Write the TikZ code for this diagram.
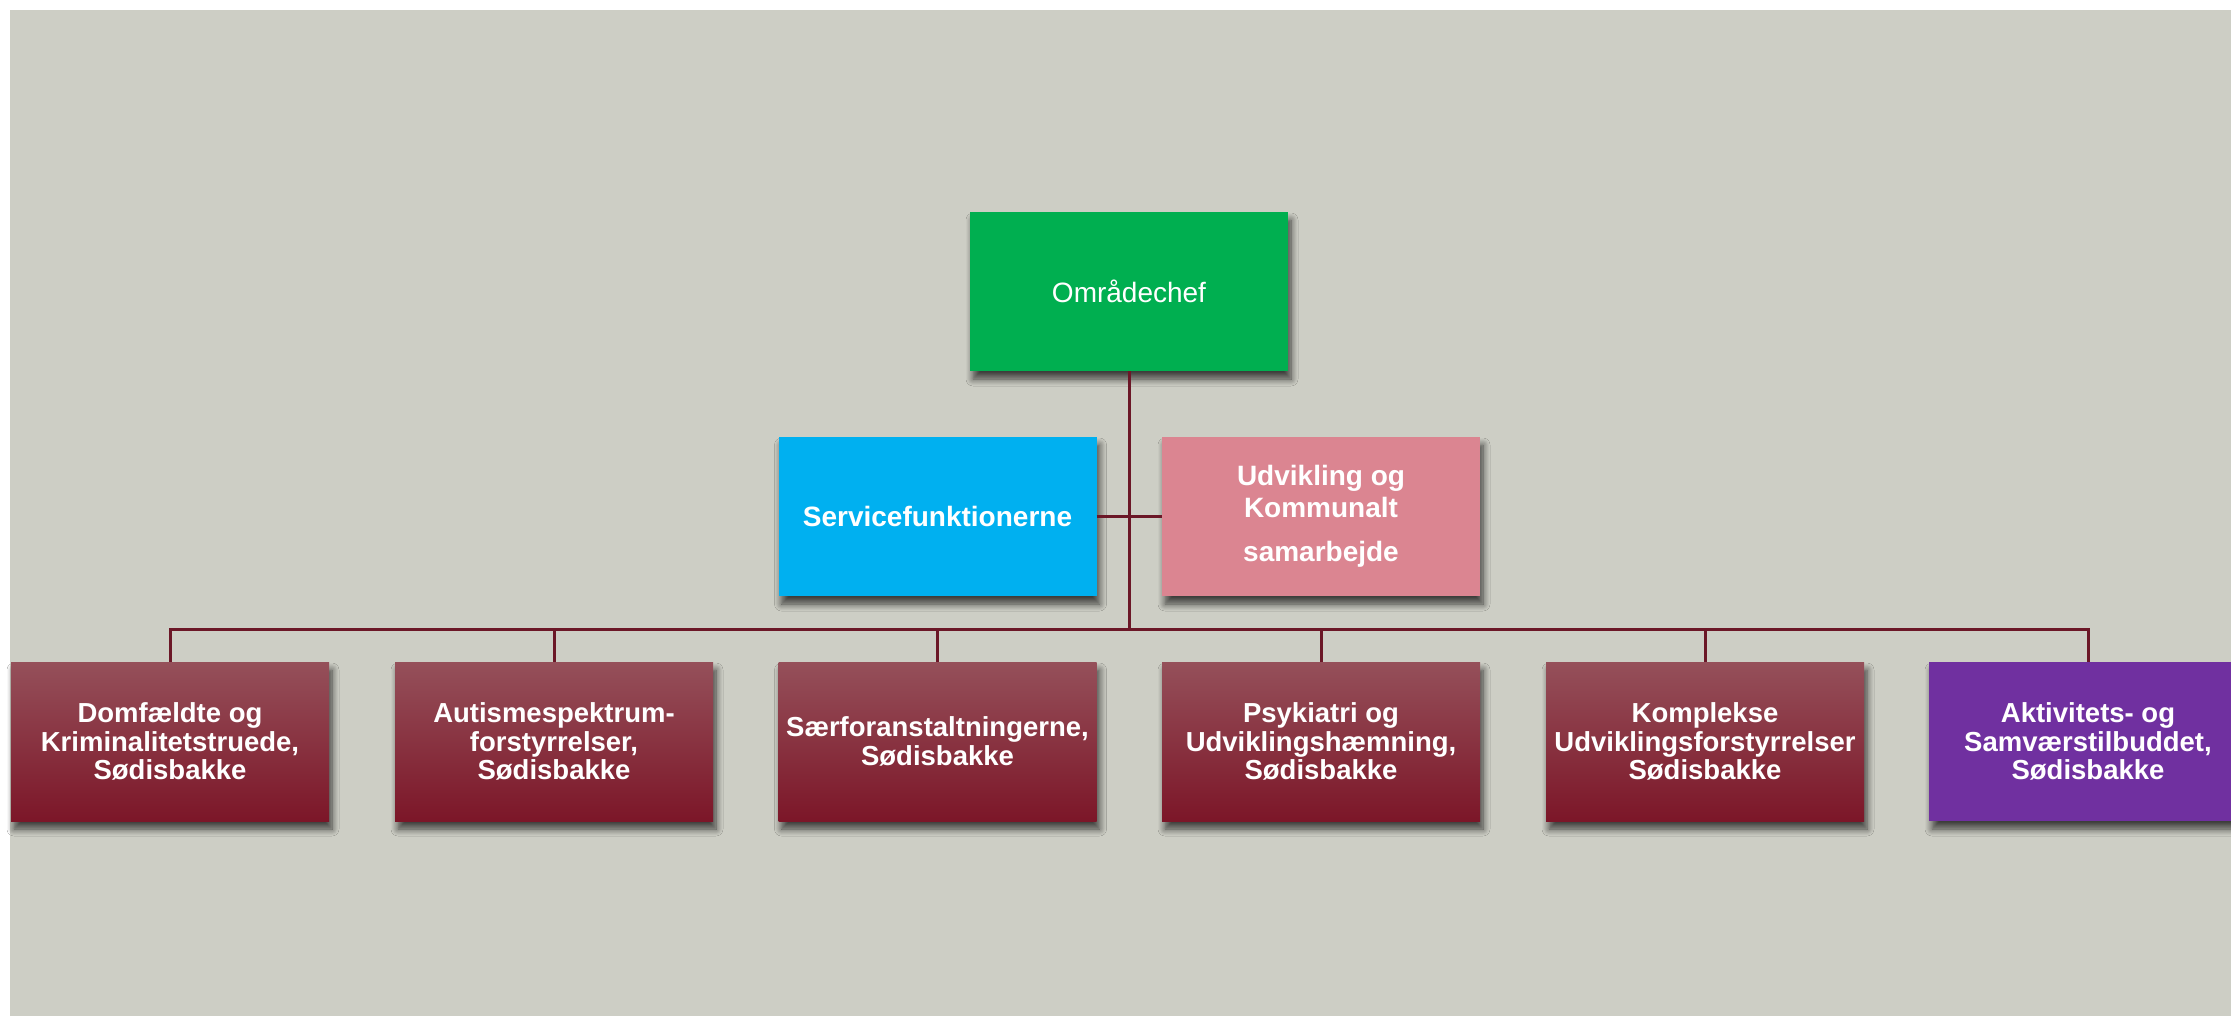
\documentclass[tikz,border=0pt]{standalone}
\usepackage{fontspec}
\setmainfont{Liberation Sans}
\usetikzlibrary{shadows.blur}
\definecolor{bgc}{HTML}{CDCEC5}
\definecolor{chefc}{HTML}{00AF50}
\definecolor{svcc}{HTML}{00B0F0}
\definecolor{udvc}{HTML}{DB8591}
\definecolor{mtop}{HTML}{95505A}
\definecolor{mmid}{HTML}{862336}
\definecolor{mbot}{HTML}{7C1628}
\definecolor{purc}{HTML}{7030A0}
\definecolor{linec}{HTML}{6B1727}
\tikzset{
  box/.style={rectangle, inner sep=0pt, minimum width=318pt, minimum height=159pt,
    text=white, align=center,
    blur shadow={shadow xshift=3pt, shadow yshift=-8pt, shadow blur radius=7pt,
      shadow blur steps=8, shadow opacity=70}},
  redbox/.style={box, top color=mtop, middle color=mmid, bottom color=mbot,
    font=\fontsize{27.5}{28.5}\selectfont\bfseries},
  conn/.style={draw=linec, line width=3pt}
}
\begin{document}
\begin{tikzpicture}[x=1pt,y=-1pt]
\useasboundingbox (0,0) rectangle (2231,1016);
\clip (0,0) rectangle (2231,1016);
\fill[white] (0,0) rectangle (2231,1016);
\fill[bgc] (10,10) rectangle (2231,1016);

\node[box, fill=chefc, font=\fontsize{28}{30}\selectfont] (chef) at (1129,291.5) {Områdechef};
\node[box, fill=svcc, font=\fontsize{28}{30}\selectfont\bfseries] (svc) at (937.5,516.5) {Servicefunktionerne};
\node[box, fill=udvc, font=\fontsize{28}{32}\selectfont\bfseries] (udv) at (1321,516.5) {Udvikling og\\Kommunalt\\[12pt]samarbejde};

\node[redbox] (b1) at (170,741.5) {Domfældte og\\Kriminalitetstruede,\\Sødisbakke};
\node[redbox] (b2) at (554,741.5) {Autismespektrum-\\forstyrrelser,\\Sødisbakke};
\node[redbox] (b3) at (937.5,741.5) {Særforanstaltningerne,\\Sødisbakke};
\node[redbox] (b4) at (1321,741.5) {Psykiatri og\\Udviklingshæmning,\\Sødisbakke};
\node[redbox] (b5) at (1705,741.5) {Komplekse\\Udviklingsforstyrrelser\\Sødisbakke};
\node[box, fill=purc, font=\fontsize{27.5}{28.5}\selectfont\bfseries] (b6) at (2088,741.5) {Aktivitets- og\\Samværstilbuddet,\\Sødisbakke};

\coordinate (busc) at (1129,629);
\draw[conn] (chef.south) -- (busc);
\draw[conn] (svc.east) -- (udv.west);
\draw[conn] (b1.north) -- (b1.north |- busc) -- (b6.north |- busc) -- (b6.north);
\draw[conn] (b2.north) -- (b2.north |- busc);
\draw[conn] (b3.north) -- (b3.north |- busc);
\draw[conn] (b4.north) -- (b4.north |- busc);
\draw[conn] (b5.north) -- (b5.north |- busc);
\end{tikzpicture}
\end{document}
